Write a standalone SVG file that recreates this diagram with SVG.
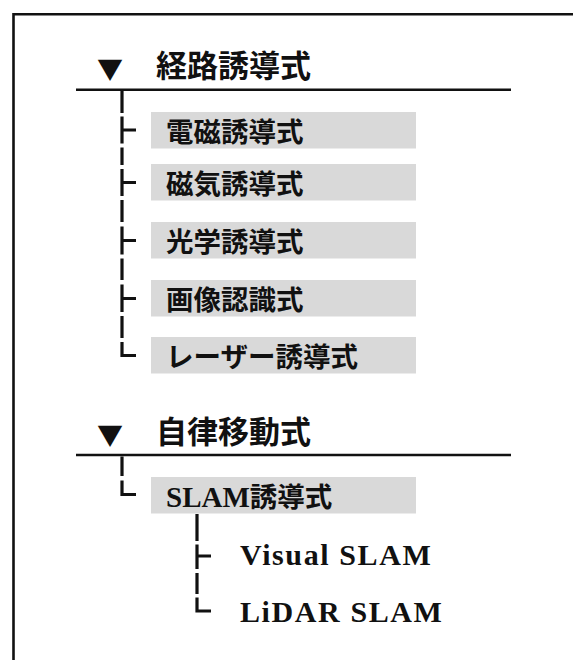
<svg xmlns="http://www.w3.org/2000/svg" width="573" height="660" viewBox="0 0 573 660">
<style>
.frame{fill:none;stroke:#111;stroke-width:2.6}
.rule{stroke:#111;stroke-width:2.6}
.box{fill:#d9d9d9}
.title{font-family:"Liberation Serif","Noto Sans CJK JP",serif;font-weight:bold;font-size:31px;fill:#111}
.tri{font-family:"Noto Sans CJK JP",sans-serif;font-size:26px;fill:#111}
.lbl{font-family:"Liberation Serif","Noto Sans CJK JP",serif;font-weight:bold;font-size:27.5px;fill:#111}
.lat{font-size:29px}
.leaf{font-family:"Liberation Serif","Noto Sans CJK JP",serif;font-weight:bold;font-size:30px;letter-spacing:1.6px;fill:#111}
.conn path{fill:none;stroke:#111;stroke-width:3.2;stroke-linejoin:miter}
</style>
<rect width="573" height="660" fill="#fff"/>
<path class="frame" d="M13.5,662 V14.2 H575"/>

<g id="title-route">
<text class="tri" x="110" y="79" text-anchor="middle">▼</text>
<text class="title" x="156" y="77">経路誘導式</text>
<line class="rule" x1="76" y1="89.7" x2="511" y2="89.7"/>
</g>
<g id="node-denji"><rect class="box" x="151" y="112" width="265" height="36.5"/><text class="lbl" x="166" y="142">電磁誘導式</text></g>
<g id="node-jiki"><rect class="box" x="151" y="164" width="265" height="36.5"/><text class="lbl" x="166" y="194">磁気誘導式</text></g>
<g id="node-kogaku"><rect class="box" x="151" y="222" width="265" height="36.5"/><text class="lbl" x="166" y="252">光学誘導式</text></g>
<g id="node-gazo"><rect class="box" x="151" y="280" width="265" height="36.5"/><text class="lbl" x="166" y="310">画像認識式</text></g>
<g id="node-laser"><rect class="box" x="151" y="337" width="265" height="36.5"/><text class="lbl" x="166" y="367">レーザー誘導式</text></g>

<g id="title-auto">
<text class="tri" x="110" y="445" text-anchor="middle">▼</text>
<text class="title" x="156" y="443">自律移動式</text>
<line class="rule" x1="76" y1="455" x2="511" y2="455"/>
</g>
<g id="node-slam"><rect class="box" x="151" y="477" width="265" height="36.5"/><text class="lbl" x="166" y="507"><tspan class="lat">SLAM</tspan>誘導式</text></g>
<g id="node-visual"><text class="leaf" x="240" y="565">Visual SLAM</text></g>
<g id="node-lidar"><text class="leaf" x="240" y="622">LiDAR SLAM</text></g>

<g id="connectors" class="conn">
<path d="M122,91 V113 M122,116.5 V143.5 M122,130 H136 M122,147.5 V165 M122,169 V196 M122,182.5 H136 M122,200 V222 M122,226.5 V254.5 M122,240.5 H136 M122,258.5 V280 M122,284.5 V312 M122,298.5 H136 M122,316 V338 M122,342 V355.5 H136"/>
<path d="M122,456.5 V476 M122,480.5 V494.5 H136"/>
<path d="M197,514 V541 M197,544.5 V569 M197,556 H211 M197,573 V594 M197,597.5 V611 H211"/>
</g>
</svg>
